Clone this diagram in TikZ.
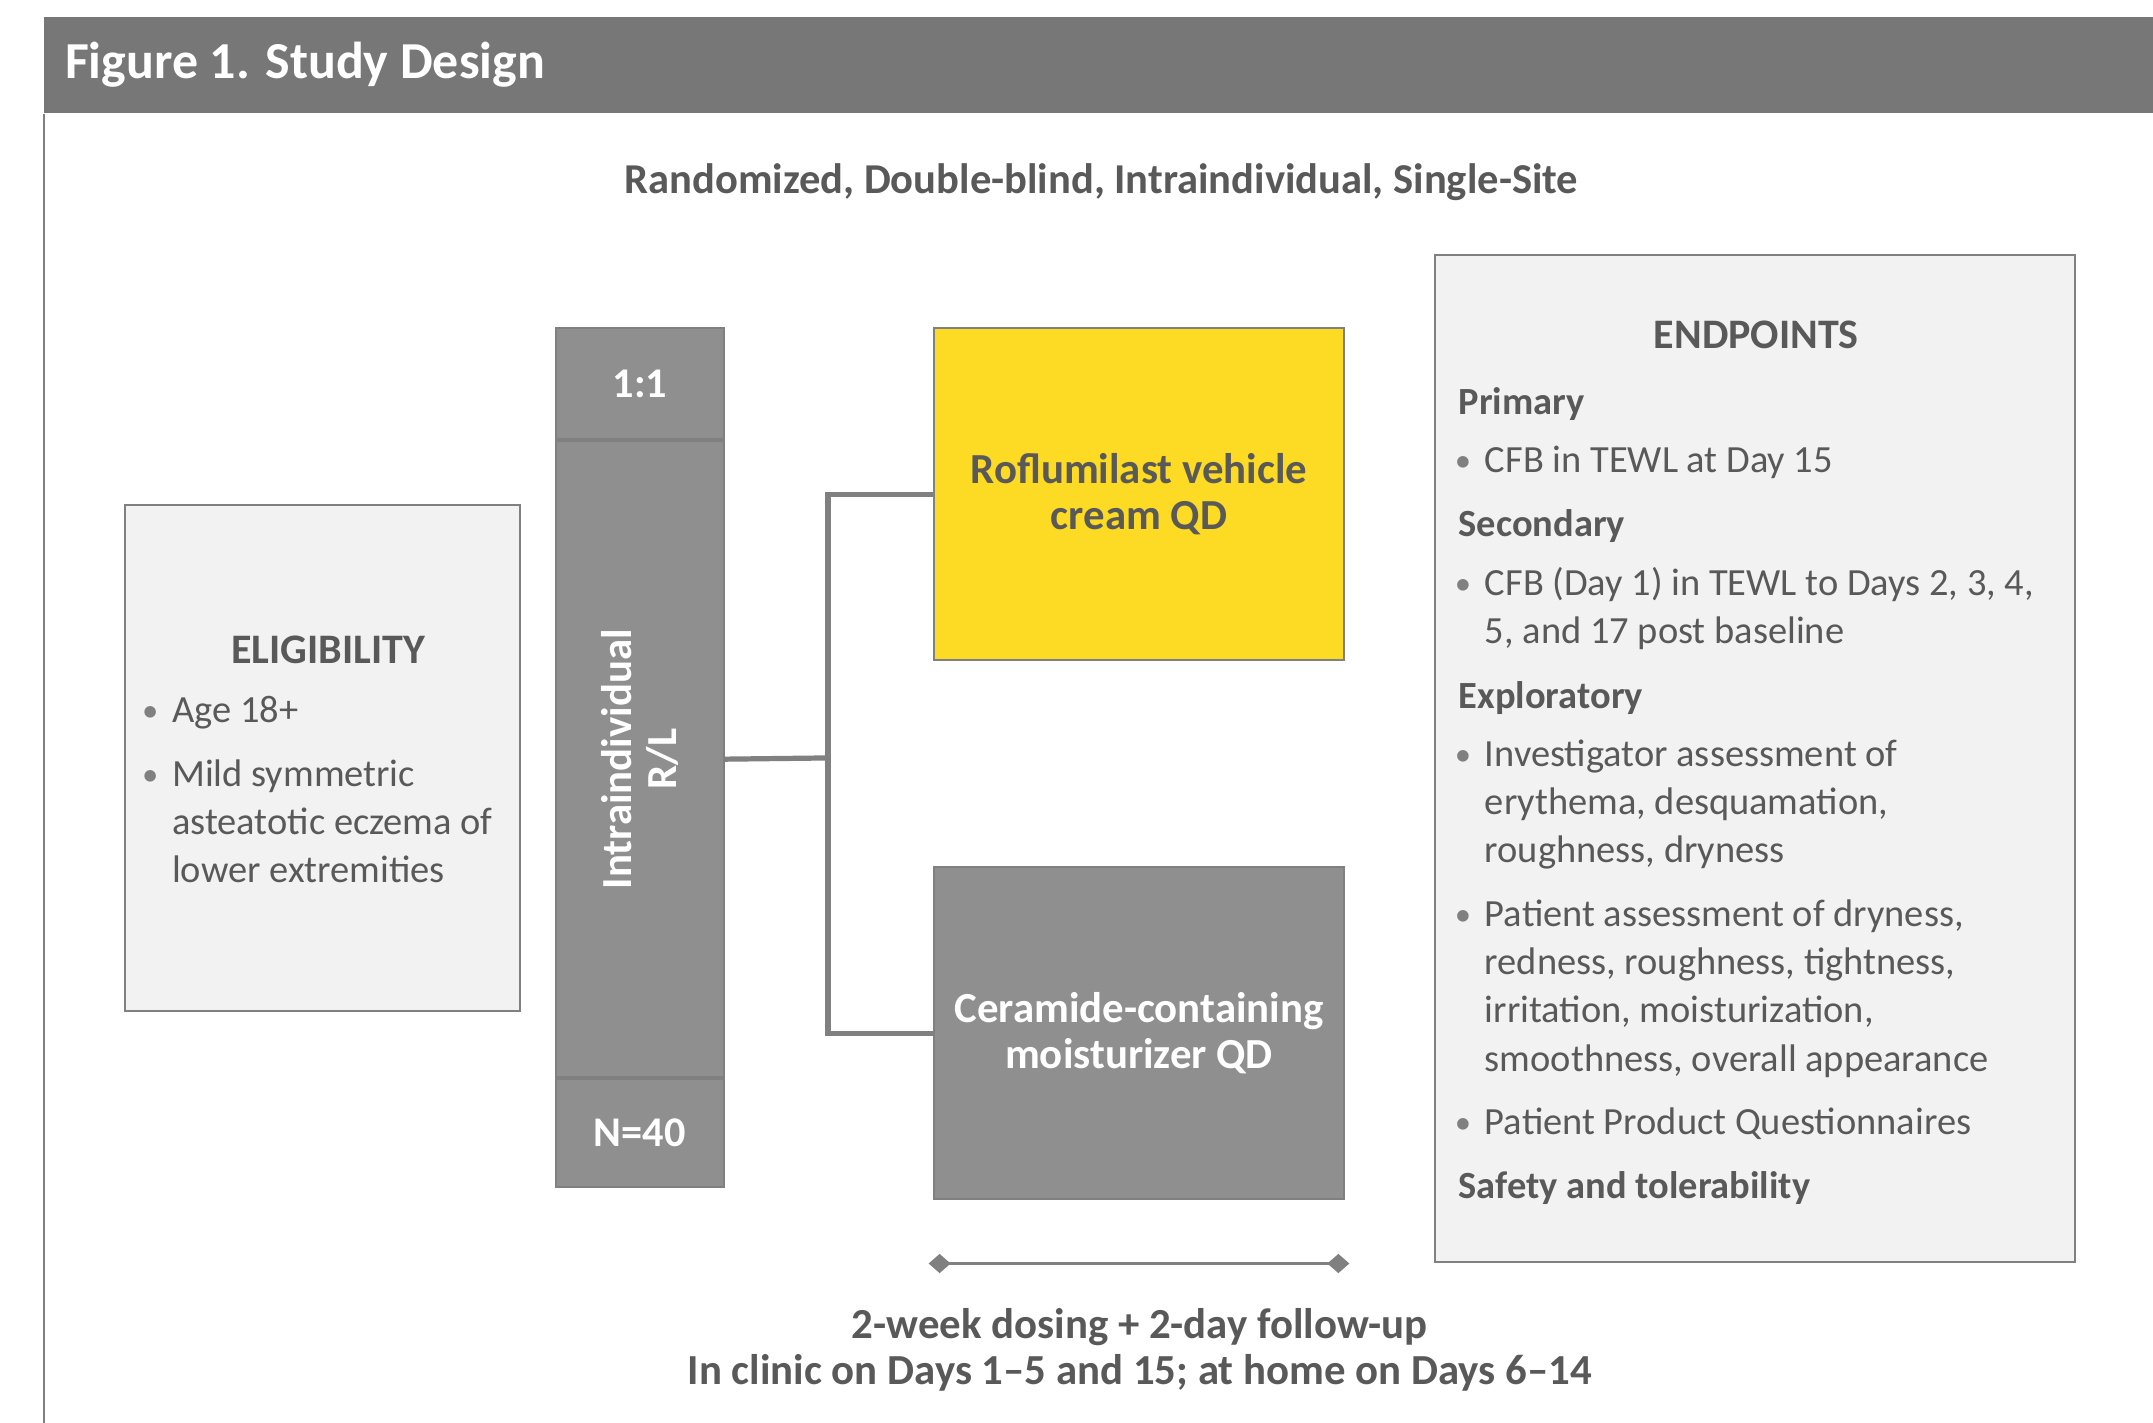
\documentclass[tikz,border=0pt]{standalone}
\usepackage{fontspec}
\setmainfont{Carlito}
\usetikzlibrary{positioning,arrows.meta,calc}
\definecolor{hdrgray}{HTML}{777777}
\definecolor{txtgray}{HTML}{595959}
\definecolor{boxgray}{HTML}{8F8F8F}
\definecolor{lightbox}{HTML}{F2F2F2}
\definecolor{edgegray}{HTML}{808080}
\definecolor{roflu}{HTML}{FDDA24}
\newcommand{\bul}{\llap{\textcolor{edgegray}{\raisebox{0.4pt}{\scalebox{0.85}{\textbullet}}}\hspace{5pt}}}

\begin{document}
\begin{tikzpicture}
[x=0.5pt, y=-0.5pt,
    every node/.style={font=\fontsize{14}{17.5}\selectfont, text=txtgray},
    panel/.style={draw=edgegray, fill=lightbox, line width=0.7pt, inner sep=0pt},
    arm/.style={draw=edgegray, line width=0.7pt, minimum width=149.5pt,
    minimum height=121pt, inner sep=0pt, align=center,
    font=\fontsize{15.6}{17}\selectfont\bfseries},
    rbox/.style={fill=boxgray, draw=edgegray, line width=0.7pt, minimum width=61pt,
    inner sep=0pt, text=white, font=\fontsize{15.4}{17}\selectfont\bfseries},
    head/.style={font=\fontsize{15.3}{18}\selectfont\bfseries},
    sub/.style={anchor=base west, inner sep=0pt, font=\fontsize{14}{17.5}\selectfont\bfseries},
    txt/.style={anchor=base west, inner sep=0pt},
    link/.style={draw=edgegray, line width=1.9pt},
]
\useasboundingbox (0,0) rectangle (1568,1036);
%%%%%%%%%%
%% frame
\node (hdr) [fill=hdrgray, minimum width=768pt, minimum height=35pt, inner sep=0pt,
anchor=north west] at (32,12) {};
\node (title) [anchor=base west, inner sep=0pt, text=white,
font=\fontsize{18.9}{21}\selectfont\bfseries] at (47,57) {Figure 1. Study Design};
\draw[edgegray, line width=1pt] (hdr.south west) -- (32,1036);
\node (design) [anchor=base, inner sep=0pt, font=\fontsize{15.5}{17}\selectfont\bfseries]
at (802,141) {Randomized, Double-blind, Intraindividual, Single-Site};

%% eligibility
\node (elig) [panel, minimum width=144pt, minimum height=184pt] at (235,552) {};
\node (eh) [head, anchor=base, inner sep=0pt] at (239,483) {ELIGIBILITY};
\def\ex{125}
\node (e1) [txt] at (\ex,526) {\bul Age 18+};
\node (e2) [txt] at (\ex,573) {\bul Mild symmetric};
\node (e3) [txt] at (\ex,608) {asteatotic eczema of};
\node (e4) [txt] at (\ex,643) {lower extremities};

%% randomization bar
\node (ratio) [rbox, minimum height=40.5pt] at (466,279.5) {1:1};
\node (rl) [rbox, minimum height=231.5pt, anchor=north] at (ratio.south) {};
\node (n) [rbox, minimum height=39.5pt, anchor=north] at (rl.south) {N=40};
\node (rltxt) [rotate=90, align=center, text=white, inner sep=0pt,
font=\fontsize{15.6}{16.5}\selectfont\bfseries] at (rl.center) {Intraindividual\\R/L};

%% arms
\node (veh) [arm, fill=roflu] at (829.5,360) {Roflumilast vehicle\\cream QD};
\node (cera) [arm, fill=boxgray, text=white] at (829.5,752.5)
{Ceramide-containing\\moisturizer QD};
\coordinate (split) at (603,552);
\draw[link] (rl.east) -- (split);
\draw[link] (veh.west) -| (split) |- (cera.west);

%% duration
\coordinate (d1) at ($(cera.south west)+(-3,46)$);
\coordinate (d2) at ($(cera.south east)+(3,46)$);
\draw[edgegray, line width=1.1pt, {Diamond[length=8pt,width=7pt]}-{Diamond[length=8pt,width=7pt]}]
(d1) -- (d2);
\node (dur) [anchor=base, inner sep=0pt, align=center,
font=\fontsize{15.6}{16.5}\selectfont\bfseries] at (830,1008)
{2-week dosing + 2-day follow-up\\In clinic on Days 1--5 and 15; at home on Days 6--14};

%% endpoints
\node (endp) [panel, minimum width=233pt, minimum height=366.5pt] at (1278,552.5) {};
\node (ph) [head, anchor=base, inner sep=0pt] at (1279,254) {ENDPOINTS};
\def\px{1062}
\def\tx{1081}
\node (p1) [sub] at (\px,302) {Primary};
\node (p2) [txt] at (\tx,344) {\bul CFB in TEWL at Day 15};
\node (s1) [sub] at (\px,391) {Secondary};
\node (s2) [txt] at (\tx,434) {\bul CFB (Day 1) in TEWL to Days 2, 3, 4,};
\node (s3) [txt] at (\tx,469) {5, and 17 post baseline};
\node (x1) [sub] at (\px,516) {Exploratory};
\node (x2) [txt] at (\tx,558) {\bul Investigator assessment of};
\node (x3) [txt] at (\tx,593) {erythema, desquamation,};
\node (x4) [txt] at (\tx,628) {roughness, dryness};
\node (x5) [txt] at (\tx,675) {\bul Patient assessment of dryness,};
\node (x6) [txt] at (\tx,710) {redness, roughness, tightness,};
\node (x7) [txt] at (\tx,745) {irritation, moisturization,};
\node (x8) [txt] at (\tx,780) {smoothness, overall appearance};
\node (x9) [txt] at (\tx,826) {\bul Patient Product Questionnaires};
\node (st) [sub] at (\px,873) {Safety and tolerability};

\end{tikzpicture}
\end{document}
